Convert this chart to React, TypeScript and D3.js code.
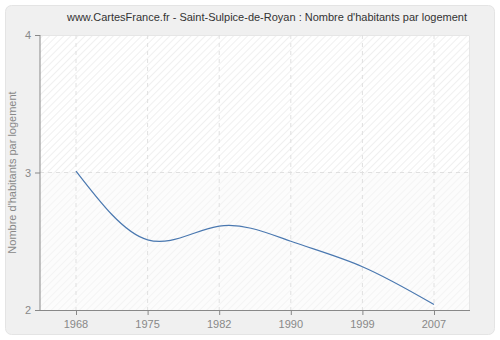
import React from "react";
import * as d3 from "d3";

const years = ["1968", "1975", "1982", "1990", "1999", "2007"];
const values = [3.01, 2.51, 2.61, 2.5, 2.315, 2.04];
const yTicks = [2, 3, 4];

const W = 500, H = 340;
const left = 40, right = 470, top = 35, bottom = 310;

export default function App() {
  const x = d3.scalePoint<string>().domain(years).range([76, 434]);
  const y = d3.scaleLinear().domain([2, 4]).range([bottom, top]);
  const line = d3
    .line<number>()
    .x((_, i) => x(years[i]) as number)
    .y((d) => y(d))
    .curve(d3.curveNatural);

  return (
    <svg width={W} height={H} style={{ position: "absolute", left: 0, top: 0 }} fontFamily="'Liberation Sans', Arial, sans-serif">
      <defs>
        <pattern id="hatch" width="5" height="5" patternUnits="userSpaceOnUse" patternTransform="rotate(45)">
          <rect width="5" height="5" fill="#ffffff" />
          <line x1="0" y1="0" x2="0" y2="5" stroke="#ebebeb" strokeWidth="1.5" />
        </pattern>
        <pattern id="hatch2" width="5" height="5" patternUnits="userSpaceOnUse" patternTransform="rotate(45)">
          <rect width="5" height="5" fill="#fcfcfc" />
          <line x1="0" y1="0" x2="0" y2="5" stroke="#f2f2f2" strokeWidth="1.5" />
        </pattern>
      </defs>
      <rect x={5.5} y={5.5} width={489} height={329} rx={6} fill="#f0f0f0" stroke="#e4e4e4" />
      <rect x={left} y={top} width={right - left} height={y(3) - top} fill="url(#hatch)" />
      <rect x={left} y={y(3)} width={right - left} height={bottom - y(3)} fill="url(#hatch2)" />
      <path d={`M${left},${top + 0.5}H${right - 0.5}V${bottom}`} fill="none" stroke="#e6e6e6" />
      {years.map((yr) => (
        <line key={yr} x1={x(yr)} x2={x(yr)} y1={top} y2={bottom} stroke="#e0e0e0" strokeDasharray="4,4" />
      ))}
      {yTicks.slice(1, -1).map((t) => (
        <line key={t} x1={left} x2={right} y1={y(t)} y2={y(t)} stroke="#e0e0e0" strokeDasharray="4,4" />
      ))}
      <path d={line(values) || ""} fill="none" stroke="#4a78b0" strokeWidth={1.2} />
      <line x1={left} x2={left} y1={top} y2={bottom} stroke="#888" />
      <line x1={left} x2={right} y1={bottom + 0.5} y2={bottom + 0.5} stroke="#888" />
      {yTicks.map((t) => (
        <g key={t}>
          <line x1={left - 5} x2={left} y1={y(t) + 0.5} y2={y(t) + 0.5} stroke="#888" />
          <text x={left - 9} y={y(t) + 4} textAnchor="end" fontSize={11} fill="#888">{t}</text>
        </g>
      ))}
      {years.map((yr) => (
        <g key={yr}>
          <line x1={(x(yr) as number) + 0.5} x2={(x(yr) as number) + 0.5} y1={bottom} y2={bottom + 5} stroke="#888" />
          <text x={x(yr)} y={bottom + 18} textAnchor="middle" fontSize={11} fill="#888">{yr}</text>
        </g>
      ))}
      <text x={267} y={21} textAnchor="middle" fontSize={11} fill="#333">
        www.CartesFrance.fr - Saint-Sulpice-de-Royan : Nombre d'habitants par logement
      </text>
      <text transform={`translate(16,${(top + bottom) / 2}) rotate(-90)`} textAnchor="middle" fontSize={11} fill="#888">
        Nombre d'habitants par logement
      </text>
    </svg>
  );
}
